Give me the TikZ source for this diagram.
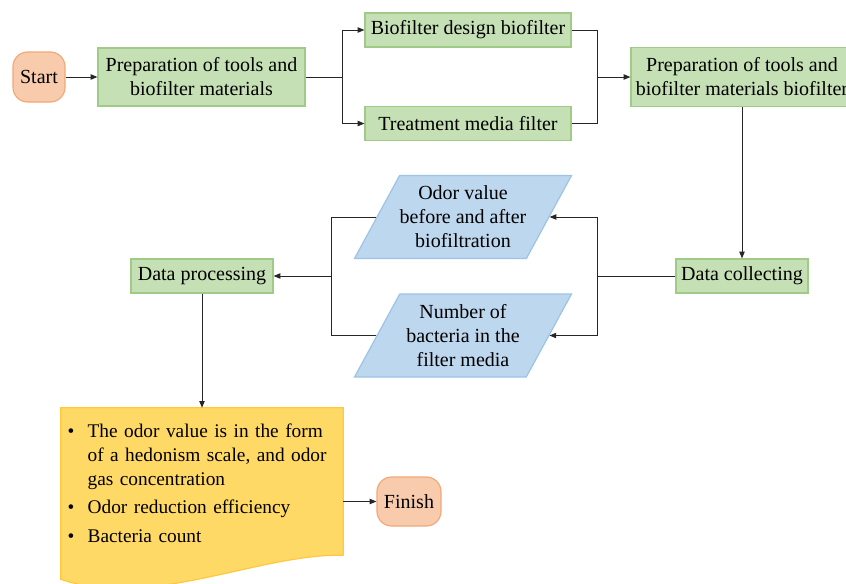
\documentclass[tikz,border=0pt]{standalone}
\usepackage{fontspec}
\setmainfont{Liberation Serif}
\usetikzlibrary{arrows.meta,shapes.geometric,calc,backgrounds}
\definecolor{boxgreen}{HTML}{C5E0B4}
\definecolor{edgegreen}{HTML}{9FCB86}
\definecolor{boxorange}{HTML}{F8CBAD}
\definecolor{edgeorange}{HTML}{F2A878}
\definecolor{boxblue}{HTML}{BDD7EE}
\definecolor{edgeblue}{HTML}{9DC3E6}
\definecolor{boxyellow}{HTML}{FFD966}
\definecolor{edgeyellow}{HTML}{FFC83D}
\newcommand{\bulletline}[1]{\par\noindent\hangindent=18pt\hangafter=1\makebox[18pt][l]{\hspace{3pt}\textbullet}#1}
\begin{document}
\begin{tikzpicture}[x=0.75pt, y=-0.75pt,
  font=\fontsize{15pt}{18pt}\selectfont,
  stepgreen/.style={draw=edgegreen, fill=boxgreen, line width=0.9pt, inner sep=0pt, align=center},
  terminal/.style={draw=edgeorange, fill=boxorange, line width=0.9pt, rounded corners=11pt, inner sep=0pt},
  datapara/.style={trapezium, trapezium left angle=54, trapezium right angle=126,
    trapezium stretches body, draw=edgeblue, fill=boxblue, line width=0.9pt,
    minimum width=162.75pt, minimum height=62.25pt, inner sep=0pt, align=center},
  docbox/.style={minimum width=211.5pt, minimum height=110.25pt, text width=207.5pt, inner xsep=2pt,
    inner ysep=0pt, font=\fontsize{14.5pt}{18pt}\selectfont},
  docshape/.style={draw=edgeyellow, fill=boxyellow, line width=0.9pt},
  flow/.style={-{Triangle[length=5pt,width=4pt]}, line width=0.7pt, black!85},
  link/.style={line width=0.7pt, black!85}]
  \useasboundingbox (0,0) rectangle (846,583);
  \clip (0,0) rectangle (846,583);

  % Top row
  \node[terminal, minimum width=39pt, minimum height=37.5pt] (start) at (39,77) {Start};
  \node[stepgreen, minimum width=155.25pt, minimum height=43.5pt] (prepTools) at (201.5,77) {Preparation of tools and\\biofilter materials};
  \node[stepgreen, minimum width=154.5pt, minimum height=25.5pt] (designBox) at (468,30) {Biofilter design biofilter};
  \node[stepgreen, minimum width=154.5pt, minimum height=25.5pt] (mediaBox) at (468,123.5) {Treatment media filter};
  \node[stepgreen, minimum width=166.5pt, minimum height=44.25pt] (prepMat) at (742,77) {Preparation of tools and\\biofilter materials biofilter};
  \coordinate (split) at (342,77);
  \coordinate (join) at (597,77);
  \draw[flow] (start) -- (prepTools);
  \draw[link] (prepTools.east) -- (split);
  \draw[flow] (split) |- (designBox.west);
  \draw[flow] (split) |- (mediaBox.west);
  \draw[link] (designBox.east) -| (join);
  \draw[link] (mediaBox.east) -| (join);
  \draw[flow] (join) -- (prepMat.west);

  % Middle row
  \node[stepgreen, minimum width=99pt, minimum height=25.5pt] (collect) at (742,276) {Data collecting};
  \node[datapara] (odorVal) at (463,217) {Odor value\\before and after\\biofiltration};
  \node[datapara] (bactNum) at (463,335.5) {Number of\\bacteria in the\\filter media};
  \node[stepgreen, minimum width=106.5pt, minimum height=25.5pt] (process) at (202,276) {Data processing};
  \coordinate (fork) at (597,276);
  \coordinate (merge) at (331,276);
  \draw[flow] (prepMat.south) -- (collect.north);
  \draw[link] (collect.west) -- (fork);
  \draw[flow] (fork) |- (odorVal.east);
  \draw[flow] (fork) |- (bactNum.east);
  \draw[link] (odorVal.west) -| (merge);
  \draw[link] (bactNum.west) -| (merge);
  \draw[flow] (merge) -- (process.east);

  % Results and finish
  \node[docbox] (results) at (202,481.5) {\setlength{\parskip}{3.5pt}%
    \bulletline{The odor value is in the form\newline of a hedonism scale, and odor\newline gas concentration}
    \bulletline{Odor reduction efficiency}
    \bulletline{Bacteria count}\par\kern9pt\hrule height 0pt width 0pt};
  \begin{scope}[on background layer]
    \draw[docshape] (results.south east) -- (results.north east) -- (results.north west)
      -- ($(results.south west)+(0,24)$) .. controls (150,610) and (260,553) .. (results.south east);
  \end{scope}
  \node[terminal, minimum width=48pt, minimum height=36.75pt] (finish) at (409,501.5) {Finish};
  \draw[flow] (process.south) -- (results.north);
  \draw[flow] (results.east |- finish) -- (finish.west);
\end{tikzpicture}
\end{document}
